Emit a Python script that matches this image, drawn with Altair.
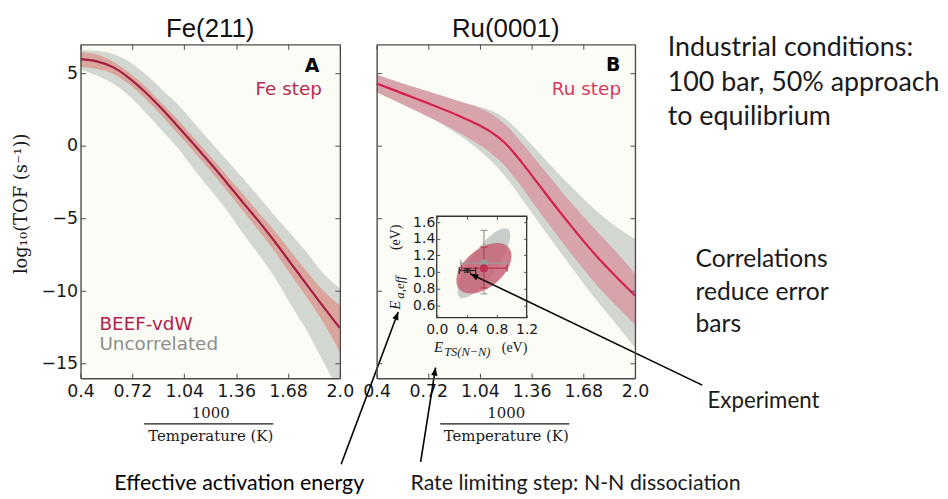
import altair as alt
import pandas as pd

# ---------------- data ----------------
inv_T = [0.4, 0.5, 0.6, 0.7, 0.8, 0.9, 1.0, 1.1, 1.2, 1.3, 1.4, 1.5, 1.6, 1.7, 1.8, 1.9, 2.0]

fe_tof = [5.98, 5.83, 5.43, 4.68, 3.70, 2.58, 1.36, 0.10, -1.18, -2.50, -3.87, -5.20, -6.62, -8.12, -9.62, -11.10, -12.55]
fe_beef_hi = [6.45, 6.30, 5.82, 5.05, 4.10, 2.95, 1.80, 0.55, -0.70, -2.00, -3.30, -4.60, -5.90, -7.30, -8.70, -10.00, -11.00]
fe_beef_lo = [5.45, 5.30, 4.98, 4.25, 3.25, 2.10, 0.85, -0.40, -1.70, -3.05, -4.45, -5.85, -7.30, -8.90, -10.50, -12.20, -14.20]
fe_unc_hi = [6.60, 6.55, 6.33, 5.80, 4.95, 3.90, 2.85, 1.60, 0.30, -0.95, -2.20, -3.50, -4.85, -6.10, -7.40, -8.80, -9.80]
fe_unc_lo = [5.30, 4.85, 4.30, 3.45, 2.30, 1.10, -0.15, -1.60, -3.00, -4.40, -6.00, -7.50, -9.10, -11.00, -12.80, -14.90, -17.00]

ru_tof = [4.30, 3.88, 3.45, 3.02, 2.58, 2.12, 1.62, 1.02, 0.15, -1.15, -2.60, -4.05, -5.45, -6.80, -8.05, -9.20, -10.30]
ru_beef_hi = [4.90, 4.53, 4.17, 3.82, 3.48, 3.12, 2.77, 2.27, 1.45, 0.20, -1.15, -2.50, -3.85, -5.10, -6.30, -7.50, -8.80]
ru_beef_lo = [3.70, 3.18, 2.65, 2.12, 1.58, 0.97, 0.32, -0.43, -1.45, -2.85, -4.40, -5.90, -7.35, -8.75, -10.05, -11.20, -12.30]
ru_unc_hi = [4.90, 4.53, 4.17, 3.82, 3.48, 3.12, 2.82, 2.47, 1.85, 0.80, -0.40, -1.60, -2.75, -3.85, -4.85, -5.70, -6.40]
ru_unc_lo = [3.70, 3.18, 2.65, 2.12, 1.53, 0.82, 0.02, -0.93, -2.15, -3.65, -5.20, -6.75, -8.25, -9.75, -11.15, -12.50, -13.90]

x_domain = [0.4, 2.0]
y_domain = [-16, 7]
x_ticks = [0.4, 0.72, 1.04, 1.36, 1.68, 2.0]
x_tick_labels = ["0.4", "0.72", "1.04", "1.36", "1.68", "2.0"]
y_ticks = [-15, -10, -5, 0, 5]
y_tick_labels = ["\u221215", "\u221210", "\u22125", "0", "5"]

inset_x_domain = [0.0, 1.2]
inset_y_domain = [0.455, 1.67]
inset_x_ticks = [0.0, 0.4, 0.8, 1.2]
inset_x_labels = ["0.0", "0.4", "0.8", "1.2"]
inset_y_ticks = [0.6, 0.8, 1.0, 1.2, 1.4, 1.6]
inset_y_labels = ["0.6", "0.8", "1.0", "1.2", "1.4", "1.6"]

est_name = ["Uncorrelated", "BEEF-vdW", "Experiment"]
est_ets = [0.63, 0.63, 0.41]
est_eeff = [1.107, 1.047, 1.02]
est_ets_lo = [0.32, 0.33, 0.30]
est_ets_hi = [0.92, 0.94, 0.52]
est_eeff_lo = [0.74, 0.81, 1.00]
est_eeff_hi = [1.50, 1.30, 1.04]

# ---------------- styles ----------------
W_A, W_B, H = 261, 260, 336
CREAM = "#fcfcf6"
FRAME = "#4d4d4d"
GREY_BAND = "#d3d7d2"
FE_BAND = "#daa59d"
FE_LINE = "#a31f44"
RU_BAND = "#d8a4ac"
RU_LINE = "#d42150"
TICK_FONT = "DejaVu Sans"
SERIF = "Liberation Serif"
WSERIF = "DejaVu Serif"
PPT = "Lato"
INK = "#1a1a1a"

IN_X_RANGE = [60.5, 151]
IN_Y_RANGE = [275, 173]

ONE = alt.Data(values=[{}])


def lab_expr(vals, labs):
    e = "''"
    for v, l in reversed(list(zip(vals, labs))):
        e = f"abs(datum.value - ({v})) < 1e-6 ? '{l}' : {e}"
    return e


def tick_axis(orient, offset, values, size=5, domain=True):
    return alt.Axis(orient=orient, offset=offset, values=values, labels=False, ticks=True,
                    tickSize=size, tickWidth=1, tickColor=FRAME, domain=domain,
                    domainColor=FRAME, domainWidth=1.4, grid=False, title=None, zindex=2)


def x_label_axis():
    return alt.Axis(orient="bottom", values=x_ticks, labelExpr=lab_expr(x_ticks, x_tick_labels),
                    ticks=False, domain=False, grid=False, labelFont=TICK_FONT, labelFontSize=17.5,
                    labelColor=INK, labelPadding=4, labelFlush=False, labelOverlap=False,
                    title=["1000", "Temperature  (K)"], titleFont=WSERIF, titleFontSize=15,
                    titleFontWeight="normal", titleColor=INK, titleLineHeight=23,
                    titleBaseline="alphabetic", titleY=39.5)


y_label_axis = alt.Axis(orient="left", values=y_ticks, labelExpr=lab_expr(y_ticks, y_tick_labels),
                        ticks=False, domain=False, grid=False, labelFont=TICK_FONT, labelFontSize=17.5,
                        labelColor=INK, labelPadding=3, labelFlush=False, labelOverlap=False,
                        title="log\u2081\u2080(TOF   (s\u207b\u00b9))", titleFont=WSERIF, titleFontSize=18,
                        titleFontWeight="normal", titleColor=INK, titleAngle=270, titleAlign="center",
                        titleBaseline="middle", titleX=-59, titleY=160)


def xs():
    return alt.Scale(domain=x_domain, nice=False, zero=False)


def ys():
    return alt.Scale(domain=y_domain, nice=False, zero=False)


def txt(s, x, y, size, color=INK, font=PPT, align="left", baseline="alphabetic", **kw):
    return alt.Chart(ONE).mark_text(text=s, align=align, baseline=baseline, font=font,
                                    fontSize=size, color=color, **kw).encode(
        x=alt.value(x), y=alt.value(y))


def frac_bar():
    return alt.Chart(ONE).mark_rule(color=INK, strokeWidth=1.3).encode(
        x=alt.value(64), x2=alt.value(194), y=alt.value(382))


def panel_title(s, w):
    return txt(s, w / 2, -7, 26, color="#111111", font="Liberation Sans", align="center")


ARROW_PATH = "M0,0 L0.4,1 L-0.4,1 Z"


def arrow(x1, y1, x2, y2, ang):
    line = alt.Chart(ONE).mark_rule(color="black", strokeWidth=1.6).encode(
        x=alt.value(x1), y=alt.value(y1), x2=alt.value(x2), y2=alt.value(y2))
    head = alt.Chart(ONE).mark_point(shape=ARROW_PATH, filled=True, color="black", opacity=1,
                                     size=256, angle=ang, strokeWidth=0).encode(
        x=alt.value(x2), y=alt.value(y2))
    return [line, head]


def ellipse_path(ratio):
    c = 0.5523
    r = ratio
    return (f"M1,0 C1,{c*r:.4f} {c:.4f},{r:.4f} 0,{r:.4f} C{-c:.4f},{r:.4f} -1,{c*r:.4f} -1,0 "
            f"C-1,{-c*r:.4f} {-c:.4f},{-r:.4f} 0,{-r:.4f} C{c:.4f},{-r:.4f} 1,{-c*r:.4f} 1,0 Z")


# ---------------- panel A : Fe(211) ----------------
dfA = pd.DataFrame({"x": inv_T, "line": fe_tof, "b_hi": fe_beef_hi, "b_lo": fe_beef_lo,
                    "u_hi": fe_unc_hi, "u_lo": fe_unc_lo})

anchor = alt.Chart(ONE).mark_rect(opacity=0).encode(
    x=alt.value(-73), x2=alt.value(-72), y=alt.value(-35), y2=alt.value(-34))

greyA = alt.Chart(dfA).mark_area(color=GREY_BAND, interpolate="monotone", clip=True).encode(
    x=alt.X("x:Q", scale=xs(), axis=x_label_axis()),
    y=alt.Y("u_hi:Q", scale=ys(), axis=y_label_axis), y2="u_lo:Q")
redA = alt.Chart(dfA).mark_area(color=FE_BAND, interpolate="monotone", clip=True).encode(
    x=alt.X("x:Q", scale=xs(), axis=tick_axis("top", -H, x_ticks)),
    y=alt.Y("b_hi:Q", scale=ys(), axis=tick_axis("right", -W_A, y_ticks)), y2="b_lo:Q")
lineA = alt.Chart(dfA).mark_line(color=FE_LINE, strokeWidth=2.2, interpolate="monotone", clip=True).encode(
    x=alt.X("x:Q", scale=xs(), axis=tick_axis("bottom", -H, x_ticks)),
    y=alt.Y("line:Q", scale=ys(), axis=tick_axis("left", -W_A, y_ticks)))

panelA = alt.layer(
    anchor, greyA, redA, lineA, frac_bar(), panel_title("Fe(211)", W_A),
    txt("A", 233, 21.5, 19, color="black", font=TICK_FONT, align="center", baseline="middle", fontWeight="bold"),
    txt("Fe step", 243, 45, 18.5, color="#b52a4f", font=TICK_FONT, align="right", baseline="middle"),
    txt("BEEF-vdW", 19, 281.5, 18.5, color="#b0224a", font=TICK_FONT, baseline="middle"),
    txt("Uncorrelated", 19, 301.5, 18.5, color="#8e8e8e", font=TICK_FONT, baseline="middle"),
    txt("Effective activation energy", 34, 448.5, 21.5, color="black"),
).resolve_scale(x="independent", y="independent").resolve_axis(x="independent", y="independent").properties(
    width=W_A, height=H)

# ---------------- panel B : Ru(0001) ----------------
dfB = pd.DataFrame({"x": inv_T, "line": ru_tof, "b_hi": ru_beef_hi, "b_lo": ru_beef_lo,
                    "u_hi": ru_unc_hi, "u_lo": ru_unc_lo})

greyB = alt.Chart(dfB).mark_area(color=GREY_BAND, interpolate="monotone", clip=True).encode(
    x=alt.X("x:Q", scale=xs(), axis=x_label_axis()),
    y=alt.Y("u_hi:Q", scale=ys(), axis=tick_axis("right", -W_B, y_ticks)), y2="u_lo:Q")
redB = alt.Chart(dfB).mark_area(color=RU_BAND, interpolate="monotone", clip=True).encode(
    x=alt.X("x:Q", scale=xs(), axis=tick_axis("top", -H, x_ticks)),
    y=alt.Y("b_hi:Q", scale=ys(), axis=tick_axis("left", -W_B, y_ticks)), y2="b_lo:Q")
lineB = alt.Chart(dfB).mark_line(color=RU_LINE, strokeWidth=2.2, interpolate="monotone", clip=True).encode(
    x=alt.X("x:Q", scale=xs(), axis=tick_axis("bottom", -H, x_ticks)),
    y=alt.Y("line:Q", scale=ys(), axis=None))

# inset
est = pd.DataFrame({"name": est_name, "ets": est_ets, "eeff": est_eeff, "ets_lo": est_ets_lo,
                    "ets_hi": est_ets_hi, "eeff_lo": est_eeff_lo, "eeff_hi": est_eeff_hi})
frame_df = pd.DataFrame({"x0": [inset_x_domain[0]], "x1": [inset_x_domain[1]],
                         "y0": [inset_y_domain[0]], "y1": [inset_y_domain[1]]})


def ixs():
    return alt.Scale(domain=inset_x_domain, range=IN_X_RANGE, nice=False, zero=False)


def iys():
    return alt.Scale(domain=inset_y_domain, range=IN_Y_RANGE, nice=False, zero=False)


est_color = alt.Color("name:N", scale=alt.Scale(domain=est_name, range=["#9b9b9b", "#c0304f", "#222222"]),
                      legend=None)

in_x_lab = alt.Axis(orient="bottom", offset=-(H - IN_Y_RANGE[0]), values=inset_x_ticks,
                    labelExpr=lab_expr(inset_x_ticks, inset_x_labels), ticks=False, domain=False,
                    grid=False, labelFont=TICK_FONT, labelFontSize=14, labelColor=INK, labelPadding=5,
                    labelFlush=False, labelOverlap=False, title=None)
in_y_lab = alt.Axis(orient="left", offset=-IN_X_RANGE[0], values=inset_y_ticks,
                    labelExpr=lab_expr(inset_y_ticks, inset_y_labels), ticks=False, domain=False,
                    grid=False, labelFont=TICK_FONT, labelFontSize=14, labelColor=INK, labelPadding=2,
                    labelFlush=False, labelOverlap=False, title=None)

in_frame = alt.Chart(frame_df).mark_rect(fill=CREAM, stroke="#333333", strokeWidth=1.3).encode(
    x=alt.X("x0:Q", scale=ixs(), axis=in_x_lab), x2="x1:Q",
    y=alt.Y("y0:Q", scale=iys(), axis=in_y_lab), y2="y1:Q")

grey_ell = alt.Chart(est).transform_filter(alt.datum.name == "Uncorrelated").mark_point(
    shape=ellipse_path(0.32), filled=True, color="#c9cdc9", opacity=1, size=7056, angle=305,
    strokeWidth=0).encode(
    x=alt.X("ets:Q", scale=ixs(), axis=tick_axis("top", -IN_Y_RANGE[0], inset_x_ticks, 3, False)),
    y=alt.Y("eeff:Q", scale=iys(), axis=tick_axis("right", IN_X_RANGE[0] - W_B, inset_y_ticks, 3, False)))
red_ell = alt.Chart(est).transform_filter(alt.datum.name == "BEEF-vdW").mark_point(
    shape=ellipse_path(0.585), filled=True, color="#c66478", opacity=0.85, size=4225, angle=320,
    strokeWidth=0).encode(
    x=alt.X("ets:Q", scale=ixs(), axis=tick_axis("bottom", IN_Y_RANGE[1] - H, inset_x_ticks, 3, False)),
    y=alt.Y("eeff:Q", scale=iys(), axis=tick_axis("left", -IN_X_RANGE[1], inset_y_ticks, 3, False)))

hbar = alt.Chart(est).mark_rule(strokeWidth=1.2).encode(
    x=alt.X("ets_lo:Q", scale=ixs(), axis=None), x2="ets_hi:Q",
    y=alt.Y("eeff:Q", scale=iys(), axis=None), color=est_color)
vbar = alt.Chart(est).mark_rule(strokeWidth=1.2).encode(
    x=alt.X("ets:Q", scale=ixs(), axis=None),
    y=alt.Y("eeff_lo:Q", scale=iys(), axis=None), y2="eeff_hi:Q", color=est_color)


def cap(xf, yf, orient):
    return alt.Chart(est).mark_tick(orient=orient, size=7, thickness=1.2, opacity=1).encode(
        x=alt.X(f"{xf}:Q", scale=ixs(), axis=None),
        y=alt.Y(f"{yf}:Q", scale=iys(), axis=None), color=est_color)


caps = [cap("ets_lo", "eeff", "vertical"), cap("ets_hi", "eeff", "vertical"),
        cap("ets", "eeff_lo", "horizontal"), cap("ets", "eeff_hi", "horizontal")]

pts_big = alt.Chart(est).transform_filter(alt.datum.name != "Experiment").mark_point(
    shape="circle", filled=True, opacity=1, size=64, strokeWidth=0).encode(
    x=alt.X("ets:Q", scale=ixs(), axis=None), y=alt.Y("eeff:Q", scale=iys(), axis=None),
    color=alt.Color("name:N", scale=alt.Scale(domain=est_name, range=["#8f8f8f", "#c0244a", "#222222"]),
                    legend=None))
pt_exp = alt.Chart(est).transform_filter(alt.datum.name == "Experiment").mark_point(
    shape="circle", filled=True, opacity=1, size=8, strokeWidth=0, color="#222222").encode(
    x=alt.X("ets:Q", scale=ixs(), axis=None), y=alt.Y("eeff:Q", scale=iys(), axis=None))

inset_titles = [
    txt("E", 57.7, 310, 15, font=SERIF, fontStyle="italic"),
    txt("TS(N\u2212N)", 68, 313.5, 12.5, font=SERIF, fontStyle="italic"),
    txt("(eV)", 126, 310, 14, font=SERIF),
    txt("E", 24, 267, 15, font=SERIF, fontStyle="italic", angle=270),
    txt("a,eff", 27.5, 256, 13, font=SERIF, fontStyle="italic", angle=270),
    txt("(eV)", 24, 207, 14, font=SERIF, angle=270),
]

notes = [
    panel_title("Ru(0001)", W_B),
    txt("B", 238, 20.5, 19, color="black", font=TICK_FONT, align="center", baseline="middle", fontWeight="bold"),
    txt("Ru step", 246, 44.5, 18.5, color="#d63a5e", font=TICK_FONT, align="right", baseline="middle"),
    txt(["Industrial conditions:", "100 bar, 50% approach", "to equilibrium"], 293, 12, 27, lineHeight=34.5),
    txt(["Correlations", "reduce error", "bars"], 321, 224.5, 24.8, lineHeight=32.5),
    txt("Experiment", 333, 366, 22.4),
    txt("Rate limiting step: N-N dissociation", 34, 448.5, 21.5),
]

arrows = (arrow(-35.7, 422.7, 21.7, 269.3, 20.5)
          + arrow(44.3, 420.3, 59.3, 325.3, 9)
          + arrow(327.7, 343, 94.3, 231, 295.6))

panelB = alt.layer(
    greyB, redB, lineB, frac_bar(),
    in_frame, grey_ell, red_ell, hbar, vbar, *caps, pts_big, pt_exp,
    *inset_titles, *notes, *arrows,
).resolve_scale(x="independent", y="independent").resolve_axis(x="independent", y="independent").properties(
    width=W_B, height=H)

chart = alt.hconcat(panelA, panelB, spacing=37, bounds="flush").properties(
    padding={"left": 0, "top": 0, "right": 0, "bottom": 0}
).configure(background="white").configure_view(fill=CREAM, strokeWidth=0)

chart.save("out.html", embed_options={"renderer": "svg", "actions": False})
